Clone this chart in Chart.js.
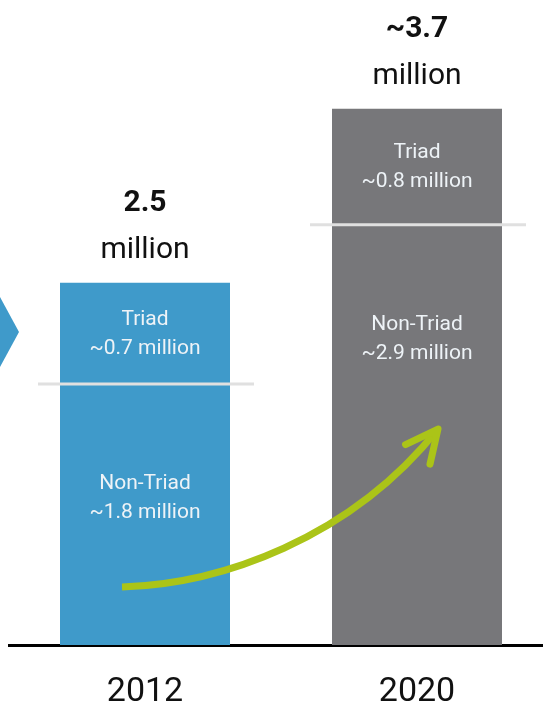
<!DOCTYPE html>
<html>
<head>
<meta charset="utf-8">
<script src="https://cdn.jsdelivr.net/npm/chart.js@4.4.0/dist/chart.umd.min.js"></script>
<style>
  html, body { margin: 0; padding: 0; background: #fff; overflow: hidden; }
  #wrap { width: 543px; height: 707px; overflow: hidden; }
  canvas { display: block; }
</style>
</head>
<body>
<div id="wrap"><canvas id="chartTriad" width="560" height="739"></canvas></div>
<script>
  // Años y valores (millones)
  const years = ["2012", "2020"];
  const nonTriad = [1.8, 2.9];
  const triad = [0.7, 0.8];
  const totalLabels = ["2.5", "~3.7"];
  const barColors = ["#3f9aca", "#77777a"];

  const FONT = "Roboto, 'Liberation Sans', sans-serif";

  function approx(v) { return "~" + v.toFixed(1) + " million"; }

  // Flecha de la izquierda, líneas separadoras, textos y flecha verde
  const decorPlugin = {
    id: "decor",
    afterDatasetsDraw(chart) {
      const ctx = chart.ctx;
      const y = chart.scales.y;
      const low = chart.getDatasetMeta(0).data;
      const top = chart.getDatasetMeta(1).data;

      ctx.save();

      // punta de flecha azul cortada en el borde
      ctx.fillStyle = barColors[0];
      ctx.beginPath();
      ctx.moveTo(0, 297);
      ctx.lineTo(19, 332);
      ctx.lineTo(0, 367);
      ctx.closePath();
      ctx.fill();

      top.forEach((bar, i) => {
        const half = bar.width / 2;
        const sep = low[i].y;

        // separador Triad / Non-Triad
        ctx.strokeStyle = "#e0e0e0";
        ctx.lineWidth = 3;
        ctx.beginPath();
        ctx.moveTo(bar.x - half - 22, sep);
        ctx.lineTo(bar.x + half + 24, sep);
        ctx.stroke();

        ctx.textAlign = "center";
        ctx.textBaseline = "middle";
        ctx.fillStyle = "#eef3f7";
        ctx.font = "21px " + FONT;
        const mid = (bar.y + bar.base) / 2;
        ctx.fillText("Triad", bar.x, mid - 14);
        ctx.fillText(approx(triad[i]), bar.x, mid + 15);

        ctx.fillText("Non-Triad", bar.x, sep + 100);
        ctx.fillText(approx(nonTriad[i]), bar.x, sep + 129);

        // total encima de la barra
        ctx.fillStyle = "#111";
        ctx.textBaseline = "alphabetic";
        ctx.font = "bold 30px " + FONT;
        ctx.fillText(totalLabels[i], bar.x, bar.y - 72);
        ctx.font = "30px " + FONT;
        ctx.fillText("million", bar.x, bar.y - 25);
      });

      // flecha verde de crecimiento
      const x0 = top[0].x, x1 = top[1].x;
      const p0 = { x: x0 - 23, y: y.getPixelForValue(0.4) };
      const c1 = { x: x0 + 75, y: y.getPixelForValue(0.42) };
      const c2 = { x: x1 - 67, y: y.getPixelForValue(0.73) };
      const tip = { x: x1 + 21, y: y.getPixelForValue(1.49) };

      ctx.strokeStyle = "#abc418";
      ctx.lineWidth = 7;
      ctx.lineCap = "butt";
      ctx.beginPath();
      ctx.moveTo(p0.x, p0.y);
      ctx.bezierCurveTo(c1.x, c1.y, c2.x, c2.y, tip.x, tip.y);
      ctx.stroke();

      const back = Math.atan2(c2.y - tip.y, c2.x - tip.x);
      const len = 36, spread = 0.45;
      ctx.lineCap = "round";
      ctx.lineJoin = "round";
      ctx.beginPath();
      ctx.moveTo(tip.x + len * Math.cos(back - spread), tip.y + len * Math.sin(back - spread));
      ctx.lineTo(tip.x, tip.y);
      ctx.lineTo(tip.x + len * Math.cos(back + spread), tip.y + len * Math.sin(back + spread));
      ctx.stroke();

      ctx.restore();
    }
  };

  new Chart(document.getElementById("chartTriad"), {
    type: "bar",
    data: {
      labels: years,
      datasets: [
        { label: "Non-Triad", data: nonTriad, backgroundColor: barColors },
        { label: "Triad", data: triad, backgroundColor: barColors }
      ]
    },
    options: {
      responsive: false,
      animation: false,
      devicePixelRatio: 1,
      layout: { padding: { left: 9, right: 7, top: 0, bottom: 0 } },
      datasets: { bar: { barPercentage: 0.625, categoryPercentage: 1, borderWidth: 0 } },
      plugins: { legend: { display: false }, tooltip: { enabled: false } },
      scales: {
        x: {
          stacked: true,
          grid: { display: false, drawTicks: false },
          border: { display: true, color: "#000", width: 3 },
          ticks: { color: "#111", padding: 30, font: { family: FONT, size: 34, lineHeight: 1 } }
        },
        y: {
          stacked: true,
          display: false,
          min: 0,
          max: 4.45
        }
      }
    },
    plugins: [decorPlugin]
  });
</script>
</body>
</html>
